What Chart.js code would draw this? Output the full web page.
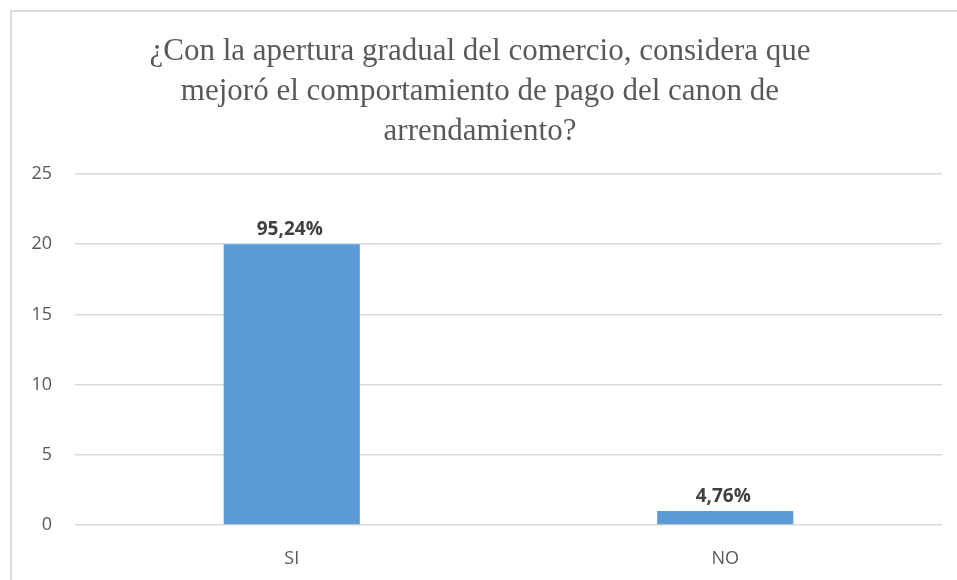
<!DOCTYPE html>
<html>
<head>
<meta charset="utf-8">
<script src="https://cdn.jsdelivr.net/npm/chart.js@4.4.0/dist/chart.umd.min.js"></script>
<style>
html,body{margin:0;padding:0;background:#fff;overflow:hidden;}
#wrap{position:relative;width:957px;height:580px;overflow:hidden;}
#frame{position:absolute;left:10px;top:10px;width:2000px;height:2000px;border-left:2px solid #d9d9d9;border-top:2px solid #d9d9d9;pointer-events:none;box-sizing:border-box;}
canvas{position:absolute;left:0;top:0;}
</style>
</head>
<body>
<div id="wrap">
<canvas id="c" width="957" height="580"></canvas>
<div id="frame"></div>
</div>
<script>
const categories = ["SI", "NO"];
const values = [20, 1];
const percentLabels = ["95,24%", "4,76%"];
const titleLines = [
  "¿Con la apertura gradual del comercio, considera que",
  "mejoró el comportamiento de pago del canon de",
  "arrendamiento?"
];
const yMin = 0, yMax = 25, yStep = 5;

const labelPlugin = {
  id: 'barLabels',
  afterDatasetsDraw(chart) {
    const ctx = chart.ctx;
    const meta = chart.getDatasetMeta(0);
    ctx.save();
    ctx.font = 'bold 19px "Open Sans", sans-serif';
    ctx.fillStyle = '#404040';
    ctx.textAlign = 'center';
    ctx.textBaseline = 'alphabetic';
    meta.data.forEach((bar, i) => {
      ctx.fillText(percentLabels[i], bar.x - 2, bar.y - 9);
    });
    ctx.restore();
  }
};

new Chart(document.getElementById('c'), {
  type: 'bar',
  data: {
    labels: categories,
    datasets: [{
      data: values,
      backgroundColor: '#5B9BD5',
      barPercentage: 0.314,
      categoryPercentage: 1.0
    }]
  },
  options: {
    responsive: false,
    animation: false,
    devicePixelRatio: 1,
    layout: { padding: { left: 18, right: 15, top: 32, bottom: 0 } },
    plugins: {
      legend: { display: false },
      tooltip: { enabled: false },
      title: {
        display: true,
        text: titleLines,
        color: '#595959',
        font: { family: '"Liberation Serif", "Times New Roman", serif', size: 31, weight: 'normal', lineHeight: 1.29 },
        padding: { top: 0, bottom: 22 }
      }
    },
    scales: {
      x: {
        afterFit(scale) { scale.height = 55; },
        grid: { display: false },
        border: { display: false },
        ticks: { color: '#595959', font: { family: '"Open Sans", sans-serif', size: 18 }, padding: 15 }
      },
      y: {
        min: yMin, max: yMax,
        afterFit(scale) { scale.width = 57; },
        grid: { color: '#d9d9d9', lineWidth: 1.5, drawTicks: false },
        border: { display: false },
        ticks: { stepSize: yStep, color: '#595959', font: { family: '"Open Sans", sans-serif', size: 18 }, padding: 23 }
      }
    }
  },
  plugins: [labelPlugin]
});
</script>
</body>
</html>
